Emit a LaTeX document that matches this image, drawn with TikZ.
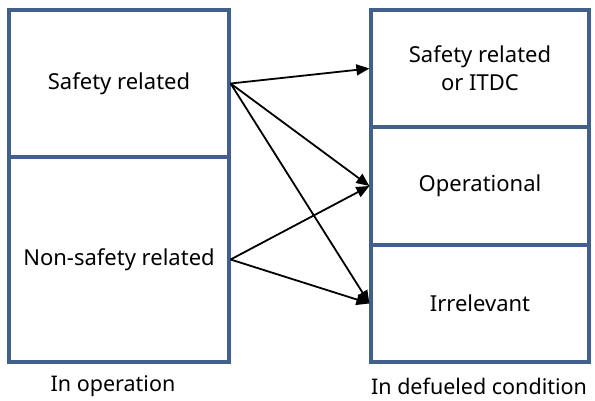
\documentclass[tikz,border=0pt]{standalone}
\usepackage{fontspec}
\setmainfont{Noto Sans}
\usetikzlibrary{arrows.meta}
\definecolor{boxblue}{RGB}{65,96,140}
\begin{document}
\begin{tikzpicture}[x=1pt,y=-1pt,
  cell/.style={draw=boxblue,line width=3.2pt,inner sep=0pt,font=\fontsize{22}{28}\selectfont,align=center},
  lab/.style={font=\fontsize{21.5}{28}\selectfont,inner sep=0pt},
  arr/.style={line width=1.8pt,-{Triangle[length=13pt,width=11pt]}}]
\useasboundingbox (0,0) rectangle (595,400);
\node[cell,minimum width=220pt,minimum height=147pt] (lt) at (119,83.5) {Safety related};
\node[cell,minimum width=220pt,minimum height=205pt] (lb) at (119,259.5) {Non-safety related};
\node[cell,minimum width=218pt,minimum height=117pt] (rt) at (480,68.5) {Safety related\\or ITDC};
\node[cell,minimum width=218pt,minimum height=118pt] (rm) at (480,186) {Operational};
\node[cell,minimum width=218pt,minimum height=117pt] (rb) at (480,303.5) {Irrelevant};
\node[lab] (lo) at (113,386) {In operation};
\node[lab] (ro) at (479,386) {In defueled condition};
\draw[arr] (lt.east) -- (rt.west);
\draw[arr] (lt.east) -- (rm.west);
\draw[arr] (lt.east) -- (rb.west);
\draw[arr] (lb.east) -- (rm.west);
\draw[arr] (lb.east) -- (rb.west);
\end{tikzpicture}
\end{document}
